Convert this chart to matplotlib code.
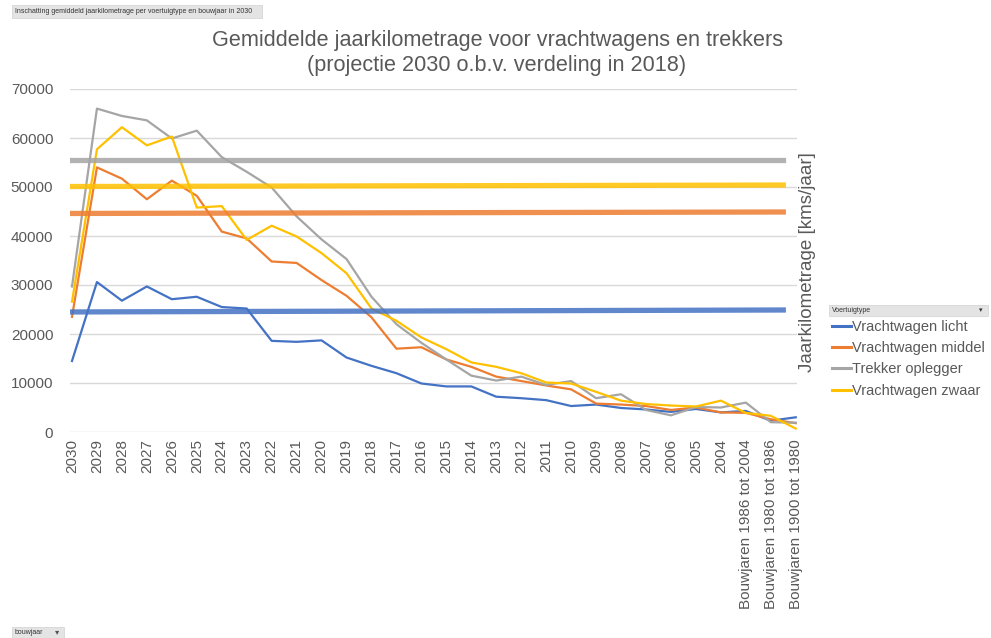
import matplotlib.pyplot as plt
from matplotlib.patches import Rectangle
from matplotlib.lines import Line2D

plt.rcParams['font.family'] = ['Liberation Sans', 'DejaVu Sans']

categories = [str(y) for y in range(2030, 2003, -1)] + [
    'Bouwjaren 1986 tot 2004', 'Bouwjaren 1980 tot 1986', 'Bouwjaren 1900 tot 1980']

licht = [14500, 30600, 26800, 29700, 27100, 27600, 25500, 25200, 18600, 18400,
         18700, 15200, 13500, 12000, 9900, 9300, 9300, 7200, 6900, 6500,
         5300, 5600, 4900, 4600, 4100, 4700, 4000, 4300, 2300, 3000]
middel = [23500, 54000, 51700, 47500, 51300, 48200, 40900, 39500, 34800, 34500,
          31000, 27800, 23400, 17000, 17300, 14800, 13300, 11300, 10400, 9500,
          8700, 5800, 5600, 5300, 4500, 5000, 4000, 3900, 2600, 1800]
trekker = [29700, 66000, 64500, 63600, 59900, 61500, 56100, 53100, 49900, 44000,
           39300, 35300, 27600, 22000, 18200, 14800, 11500, 10500, 11300, 9600,
           10400, 6900, 7700, 4500, 3400, 5100, 5000, 6000, 2000, 1900]
zwaar = [26600, 57700, 62200, 58500, 60300, 45800, 46100, 39200, 42100, 39900,
         36500, 32400, 25200, 22700, 19300, 16900, 14200, 13300, 12000, 10100,
         9900, 8200, 6400, 5700, 5400, 5200, 6400, 3900, 3300, 700]

# gemiddelde-lijnen: begin- en eindwaarde
gem_licht = [24500, 24900]
gem_middel = [44600, 44900]
gem_trekker = [55600, 55600]
gem_zwaar = [50100, 50400]

names = ['Vrachtwagen licht', 'Vrachtwagen middel', 'Trekker oplegger', 'Vrachtwagen zwaar']
colors = ['#4472C4', '#ED7D31', '#A5A5A5', '#FFC000']
series = [licht, middel, trekker, zwaar]
gems = [gem_licht, gem_middel, gem_trekker, gem_zwaar]

fig = plt.figure(figsize=(9.91, 6.38), dpi=100)
ax = fig.add_axes([70 / 991, 1 - 432 / 638, 727 / 991, 343 / 638])

x = list(range(len(categories)))
for vals, c in zip(series, colors):
    ax.plot(x, vals, color=c, lw=1.6, zorder=3, solid_joinstyle='round')
for g, c in zip(gems, colors):
    ax.plot([0, len(categories) - 1.5], g, color=c, lw=3.8, zorder=4, alpha=0.85)

ax.set_xlim(-0.08, len(categories) - 0.95)
ax.set_ylim(0, 70000)
ax.set_yticks(range(0, 70001, 10000))
ax.set_xticks(x)
ax.set_xticklabels(categories, rotation=90, va='top', ha='center')
ax.tick_params(axis='both', length=0, labelsize=11, labelcolor='#595959')
ax.tick_params(axis='x', pad=5)
ax.tick_params(axis='y', pad=12)
ax.grid(axis='y', color='#D9D9D9', lw=1)
ax.set_axisbelow(True)
for s in ax.spines.values():
    s.set_visible(False)

fig.text(497 / 991, 1 - 53 / 638,
         'Gemiddelde jaarkilometrage voor vrachtwagens en trekkers\n(projectie 2030 o.b.v. verdeling in 2018)',
         ha='center', va='center', fontsize=15.6, color='#595959', linespacing=1.2)

fig.text(808 / 991, 1 - 262 / 638, 'Jaarkilometrage [kms/jaar]', rotation=90,
         ha='center', va='center', fontsize=13.5, color='#595959')

# legenda met kopbalk
fig.patches.append(Rectangle((829 / 991, 1 - 316 / 638), 159 / 991, 11 / 638,
                             transform=fig.transFigure, facecolor='#E4E4E4',
                             edgecolor='#D0D0D0', lw=0.5))
fig.text(832 / 991, 1 - 310.5 / 638, 'Voertuigtype', fontsize=5, va='center', color='#333333')
fig.text(981 / 991, 1 - 310.5 / 638, '▾', fontsize=5, va='center', ha='center', color='#333333')
handles = [Line2D([0], [0], color=c, lw=2.2) for c in colors]
fig.legend(handles, names, loc='upper left', bbox_to_anchor=(829 / 991, 1 - 317 / 638),
           frameon=False, fontsize=10.5, handlelength=1.3, handletextpad=0.1,
           labelspacing=0.5, borderaxespad=0, borderpad=0.2, labelcolor='#595959')

# filterknoppen
fig.patches.append(Rectangle((12 / 991, 1 - 18 / 638), 250 / 991, 13 / 638,
                             transform=fig.transFigure, facecolor='#E4E4E4',
                             edgecolor='#D0D0D0', lw=0.5))
fig.text(15 / 991, 1 - 11.5 / 638,
         'Inschatting gemiddeld jaarkilometrage per voertuigtype en bouwjaar in 2030',
         fontsize=5, va='center', color='#333333')
fig.patches.append(Rectangle((12 / 991, 0), 52 / 991, 11 / 638,
                             transform=fig.transFigure, facecolor='#E4E4E4',
                             edgecolor='#D0D0D0', lw=0.5))
fig.text(15 / 991, 5.5 / 638, 'bouwjaar', fontsize=5, va='center', color='#333333')
fig.text(57 / 991, 5.5 / 638, '▾', fontsize=6, va='center', ha='center', color='#555555')

fig.savefig('out.png', dpi=100, facecolor='white')
